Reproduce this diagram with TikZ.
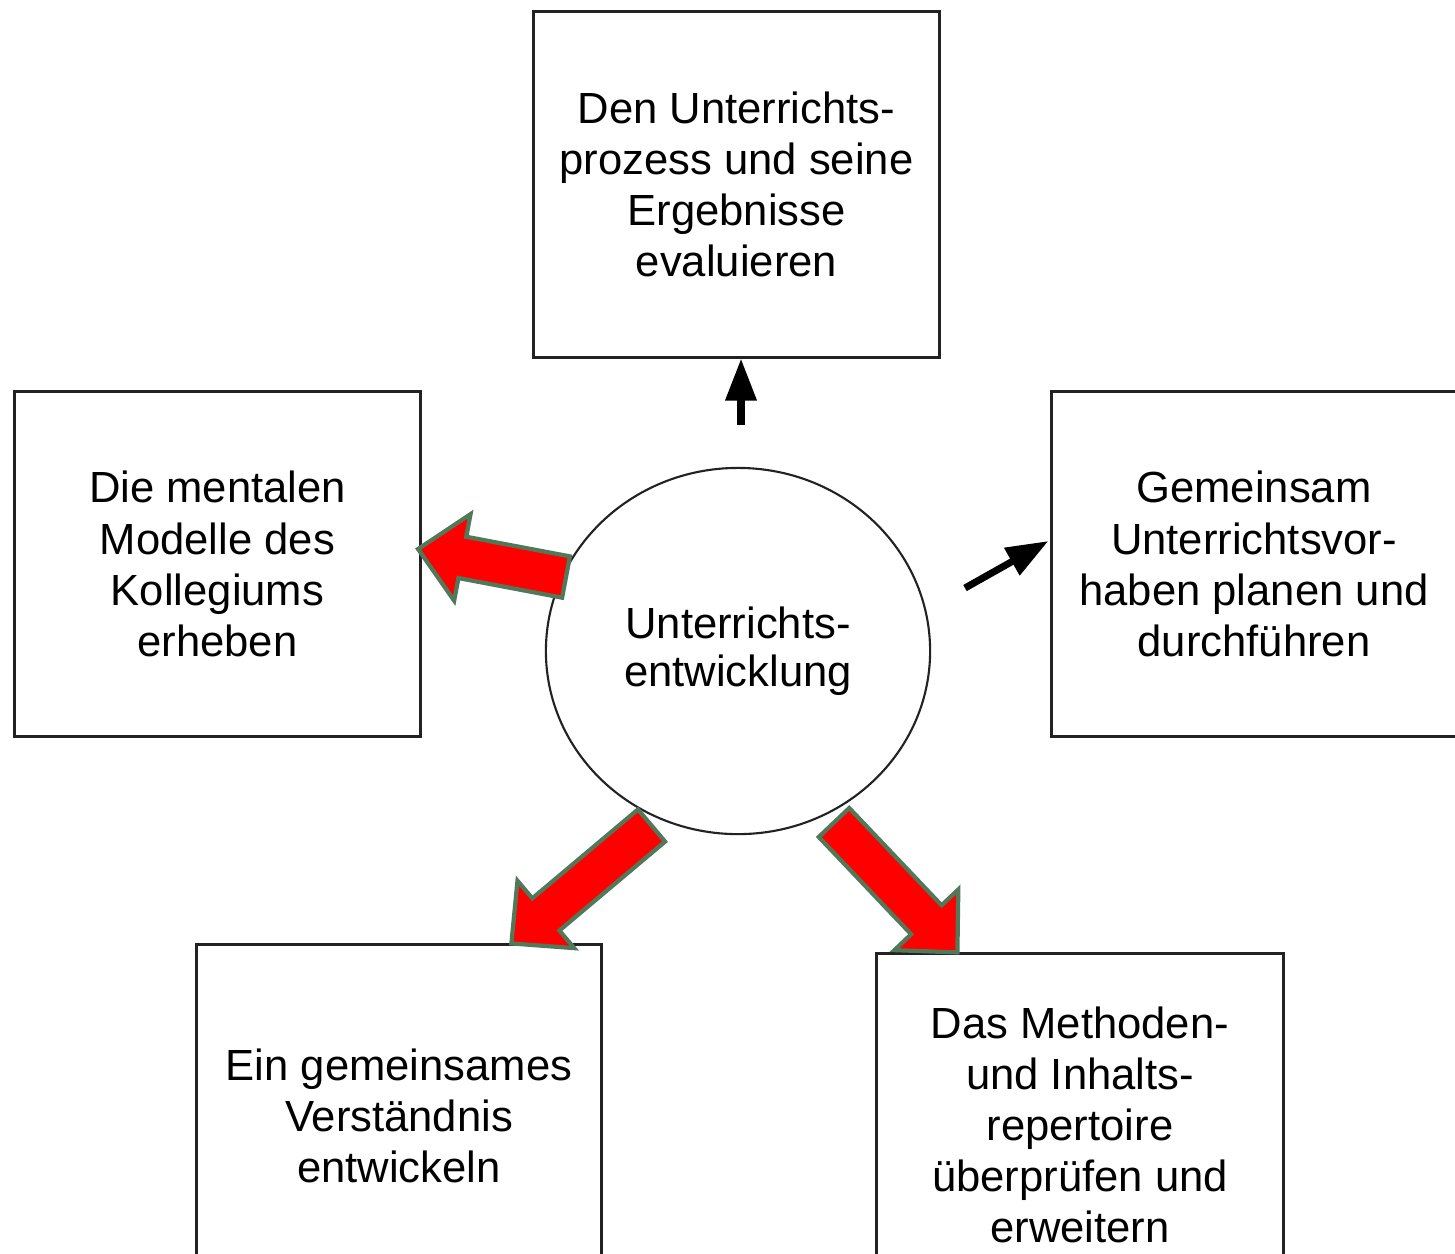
\documentclass[tikz,border=0pt]{standalone}
\usepackage{fontspec}
\setmainfont{Liberation Sans}
\usetikzlibrary{positioning, arrows.meta, shapes.geometric, calc}
\definecolor{RedA}{HTML}{FF0000}
\definecolor{GreenA}{HTML}{52785A}
\definecolor{GrayA}{HTML}{222222}
\tikzset{
  box/.style={draw=GrayA, line width=0.85pt, align=center, inner sep=0pt, minimum width=4.06cm, minimum height=3.45cm, font=\fontsize{12.4}{14.55}\selectfont},
  hub/.style={draw=GrayA, line width=0.6pt, ellipse, align=center, inner sep=0pt, minimum width=3.84cm, minimum height=3.66cm, font=\fontsize{12.4}{13.8}\selectfont},
  arr/.style={-{Triangle[length=0.42cm, width=0.3cm]}, line width=2pt},
  fat/.style={fill=RedA, draw=GreenA, line width=1.2pt, line join=miter}
}
\newcommand\fatarrow[2]{%
  \path coordinate (fa-b) at ($(#2)!0.45cm!(#1)$);
  \draw[fat] ($(#1)!0.21cm!90:(#2)$) -- ($(fa-b)!0.21cm!90:(#2)$) -- ($(fa-b)!0.44cm!90:(#2)$)
    -- (#2) -- ($(fa-b)!0.44cm!-90:(#2)$) -- ($(fa-b)!0.21cm!-90:(#2)$) -- ($(#1)!0.21cm!-90:(#2)$) -- cycle;
}

\begin{document}
\begin{tikzpicture}[x=0.01cm, y=-0.01cm]
  \useasboundingbox (0,0) rectangle (1455,1253);
  \clip (0,0) rectangle (1455,1253);

  \node[hub] (hub) at (738,651) {Unterrichts-\\entwicklung};
  \node[box] (evaluate) at (736.5,184.5) {Den Unterrichts-\\prozess und seine\\Ergebnisse\\evaluieren};
  \node[box] (mental) at (217.5,564) {Die mentalen\\Modelle des\\Kollegiums\\erheben};
  \node[box, minimum width=4.04cm] (plan) at (1254,564) {Gemeinsam\\Unterrichtsvor-\\haben planen und\\durchführen};
  \node[box, minimum width=4.04cm, minimum height=3.42cm] (verst) at (399,1116) {Ein gemeinsames\\Verständnis\\entwickeln};
  \node[box, minimum height=3.42cm] (repert) at (1080,1125) {Das Methoden-\\und Inhalts-\\repertoire\\überprüfen und\\erweitern};

  \coordinate (up-tail) at (741,425);
  \coordinate (rt-tail) at (965,588);
  \coordinate (l-tail) at (566,577);
  \coordinate (bl-tail) at (651.5,825.5);
  \coordinate (br-tail) at (834,822.5);

  \draw[arr] (up-tail) -- (up-tail |- evaluate.south);
  \draw[arr] (rt-tail) -- ($(plan.west)+(-2,-23)$);
  \fatarrow{l-tail}{$(mental.east)+(-4,-15)$}
  \fatarrow{bl-tail}{$(verst.north west)+(316,0)$}
  \fatarrow{br-tail}{$(repert.north west)+(82,0)$}
\end{tikzpicture}
\end{document}
